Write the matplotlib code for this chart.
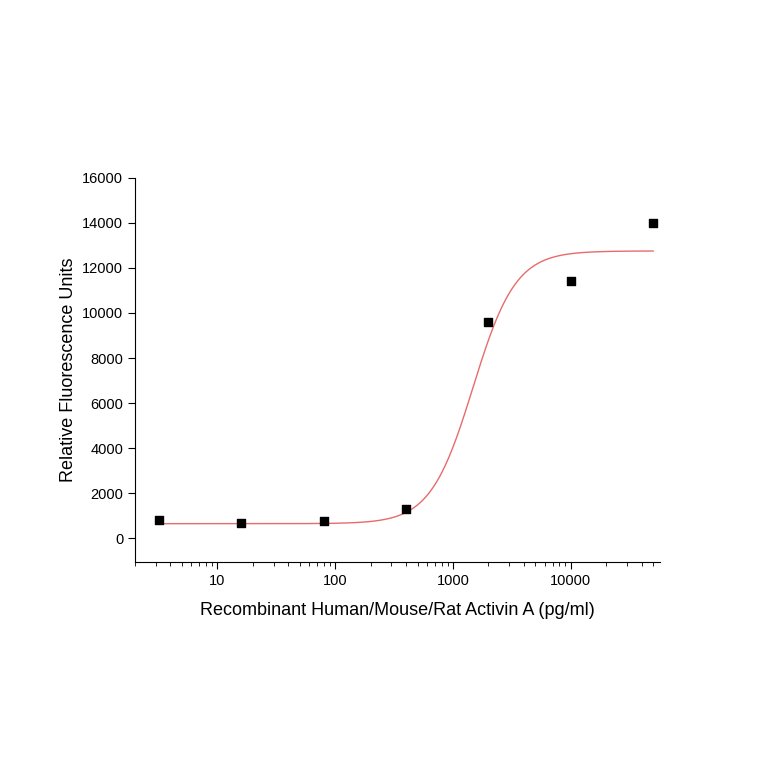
import numpy as np
import matplotlib
matplotlib.use("Agg")
import matplotlib.pyplot as plt
from matplotlib.ticker import LogLocator, NullFormatter, FixedLocator

plt.rcParams['font.family'] = ['Liberation Sans', 'DejaVu Sans']

conc = [3.2, 16, 80, 400, 2000, 10000, 50000]
rfu = [800, 700, 750, 1300, 9600, 11400, 14000]
# 4PL fit parameters
bottom, top, ec50, hill = 650, 12750, 1480, 2.4

fig = plt.figure(figsize=(7.64, 7.64), dpi=100)
ax = fig.add_axes([0.1767, 0.2644, 0.687, 0.503])
xs = np.logspace(np.log10(3.2), np.log10(50000), 400)
ax.plot(xs, bottom + (top - bottom) / (1 + (ec50 / xs) ** hill), color="#e86b6b", lw=1)
ax.scatter(conc, rfu, marker="s", s=40, color="black", zorder=3)
ax.set_xscale("log")
ax.set_xlim(2, 57000)
ax.set_ylim(-1050, 16000)
ax.yaxis.set_major_locator(FixedLocator(range(0, 16001, 2000)))
ax.set_xticks([10, 100, 1000, 10000])
ax.set_xticklabels(["10", "100", "1000", "10000"])
ax.xaxis.set_minor_locator(LogLocator(base=10, subs=np.arange(2, 10)))
ax.xaxis.set_minor_formatter(NullFormatter())
for s in ["top", "right"]:
    ax.spines[s].set_visible(False)
ax.tick_params(direction="out", labelsize=10.5, length=5)
ax.tick_params(which="minor", length=3)
ax.set_xlabel("Recombinant Human/Mouse/Rat Activin A (pg/ml)", fontsize=13, labelpad=10)
ax.set_ylabel("Relative Fluorescence Units", fontsize=13)
fig.savefig("out.png", dpi=100)
